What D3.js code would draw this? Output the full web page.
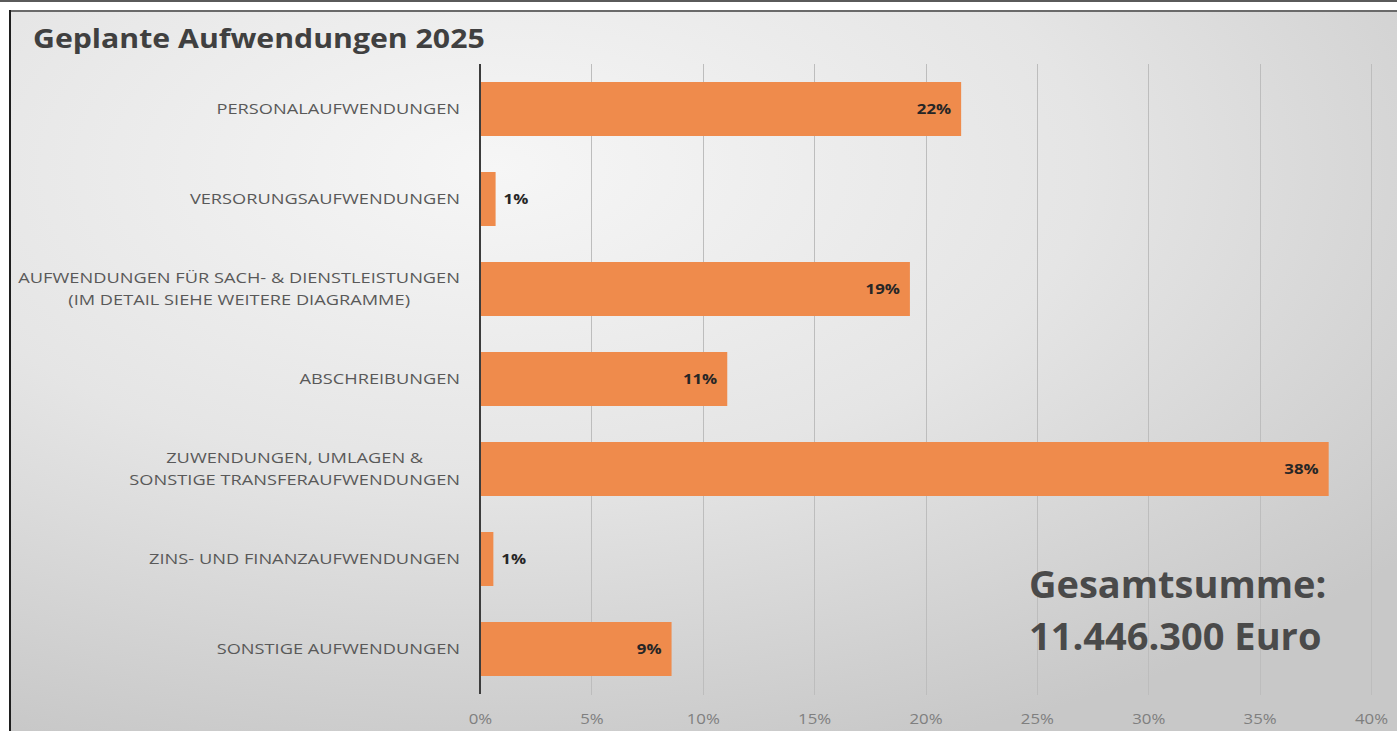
<!DOCTYPE html>
<html>
<head>
<meta charset="utf-8">
<script src="https://cdn.jsdelivr.net/npm/d3@7"></script>
<style>
  html, body { margin: 0; padding: 0; background: #ffffff; }
  svg { display: block; }
  text { font-family: "Open Sans", "Noto Sans", sans-serif; }
</style>
</head>
<body>
<svg id="chart" width="1397" height="731"></svg>
<script>
// ---- data ----
const titleText = "Geplante Aufwendungen 2025";
const categories = [
  ["PERSONALAUFWENDUNGEN"],
  ["VERSORUNGSAUFWENDUNGEN"],
  ["AUFWENDUNGEN FÜR SACH- & DIENSTLEISTUNGEN", "(IM DETAIL SIEHE WEITERE DIAGRAMME)"],
  ["ABSCHREIBUNGEN"],
  ["ZUWENDUNGEN, UMLAGEN &", "SONSTIGE TRANSFERAUFWENDUNGEN"],
  ["ZINS- UND FINANZAUFWENDUNGEN"],
  ["SONSTIGE AUFWENDUNGEN"]
];
const shares = [0.216, 0.007, 0.193, 0.111, 0.381, 0.006, 0.086];
const xTicks = [0, 0.05, 0.10, 0.15, 0.20, 0.25, 0.30, 0.35, 0.40];
const totalLines = ["Gesamtsumme:", "11.446.300 Euro"];

// ---- layout ----
const W = 1397, H = 731;
const svg = d3.select("#chart");
const plot = { left: 480, right: 1371, top: 64, bottom: 694 };

const defs = svg.append("defs");
const grad = defs.append("radialGradient").attr("id", "bg")
  .attr("cx", 0.35).attr("cy", 0.22).attr("r", 0.85);
grad.append("stop").attr("offset", 0).attr("stop-color", "#f6f6f6");
grad.append("stop").attr("offset", 0.5).attr("stop-color", "#e5e5e5");
grad.append("stop").attr("offset", 1).attr("stop-color", "#c8c8c8");

// outer frame
svg.append("rect").attr("x", 0).attr("y", 0).attr("width", W).attr("height", H).attr("fill", "#ffffff");
svg.append("line").attr("x1", 0).attr("x2", W).attr("y1", 1).attr("y2", 1)
  .attr("stroke", "#5a5a5a").attr("stroke-width", 2);
svg.append("rect").attr("x", 10).attr("y", 10).attr("width", W - 10).attr("height", H - 10)
  .attr("fill", "url(#bg)");
svg.append("line").attr("x1", 10).attr("x2", W).attr("y1", 11).attr("y2", 11)
  .attr("stroke", "#6a6a6a").attr("stroke-width", 2);
svg.append("line").attr("x1", 10).attr("x2", 10).attr("y1", 10).attr("y2", H)
  .attr("stroke", "#1e1e1e").attr("stroke-width", 2);

// scales
const x = d3.scaleLinear().domain([0, 0.4]).range([plot.left, plot.right]);
const y = d3.scaleBand().domain(d3.range(categories.length))
  .range([plot.top, plot.bottom]).paddingInner(0.4).paddingOuter(0.2);

// gridlines
svg.append("g").selectAll("line").data(xTicks.filter(d => d > 0)).join("line")
  .attr("x1", d => Math.round(x(d)) + 0.5).attr("x2", d => Math.round(x(d)) + 0.5)
  .attr("y1", plot.top).attr("y2", plot.bottom + 1)
  .attr("stroke", "#bdbdbd").attr("stroke-width", 1);

// x axis tick labels
const tickFmt = d3.format(".0%");
const xAxis = d3.axisBottom(x).tickValues(xTicks).tickFormat(tickFmt).tickSize(0).tickPadding(0);
const gx = svg.append("g").attr("transform", `translate(0, ${plot.bottom})`).call(xAxis);
gx.select(".domain").remove();
gx.selectAll("text")
  .attr("x", 0).attr("y", 30).attr("dy", 0)
  .attr("fill", "#7f7f7f").attr("font-size", 15)
  .attr("font-family", "'Open Sans', sans-serif")
  .attr("transform", "scale(1.12,1)");

// bars
svg.append("g").selectAll("rect").data(shares).join("rect")
  .attr("x", x(0))
  .attr("y", (d, i) => y(i))
  .attr("width", d => x(d) - x(0))
  .attr("height", y.bandwidth())
  .attr("fill", "#ef8b4c");

// y axis line
svg.append("line").attr("x1", x(0)).attr("x2", x(0))
  .attr("y1", plot.top).attr("y2", plot.bottom)
  .attr("stroke", "#3c3c3c").attr("stroke-width", 2);

// category labels
const labelSX = 1.215;
const labelRight = 460;
const lineGap = 23;
categories.forEach((lines, i) => {
  const cy = y(i) + y.bandwidth() / 2;
  const t = svg.append("text")
    .attr("font-size", 15).attr("fill", "#595959").attr("text-anchor", "middle");
  lines.forEach((ln, k) => {
    t.append("tspan").attr("x", 0)
      .attr("y", (k - (lines.length - 1) / 2) * lineGap + 5)
      .text(ln);
  });
  const w = t.node().getBBox().width;
  t.attr("transform", `translate(${labelRight - w * labelSX / 2}, ${cy}) scale(${labelSX},1)`);
});

// value labels
const valFmt = d3.format(".0%");
shares.forEach((v, i) => {
  const cy = y(i) + y.bandwidth() / 2;
  const inside = v >= 0.05;
  const t = svg.append("text")
    .attr("font-size", 15).attr("font-weight", 700).attr("fill", "#262626")
    .attr("text-anchor", inside ? "end" : "start")
    .attr("y", 5)
    .text(valFmt(v));
  const px = inside ? x(v) - 10 : x(v) + 8;
  t.attr("transform", `translate(${px}, ${cy}) scale(1.12,1)`);
});

// title
svg.append("text").attr("font-size", 26).attr("font-weight", 700).attr("fill", "#404040")
  .attr("transform", "translate(33,48) scale(1.163,1)")
  .text(titleText);

// total annotation
const tot = svg.append("text").attr("font-size", 38).attr("font-weight", 700).attr("fill", "#4a4a4a");
totalLines.forEach((ln, k) => {
  tot.append("tspan").attr("x", 1029).attr("y", 598 + k * 52).text(ln);
});
</script>
</body>
</html>
